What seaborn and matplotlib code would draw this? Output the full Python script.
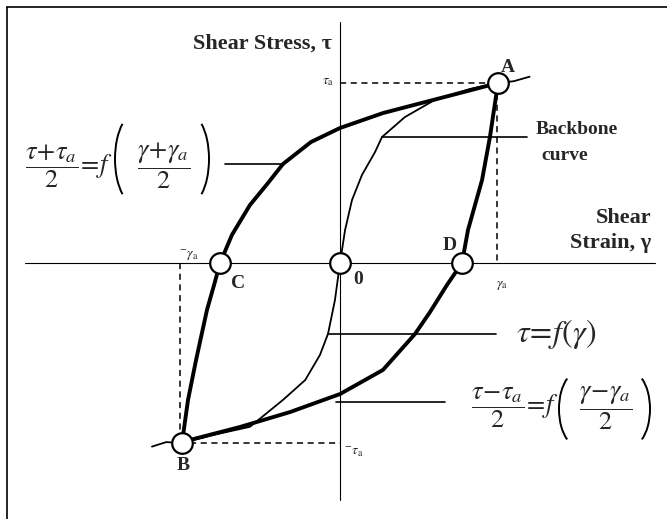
import numpy as np
import pandas as pd
import matplotlib
matplotlib.use("Agg")
import matplotlib.pyplot as plt
from matplotlib.lines import Line2D
from matplotlib.patches import Arc
import seaborn as sns

# normalised strain / stress (gamma_a = 1, tau_a = 1)
loop_up_gamma = [-1.0, -0.962, -0.911, -0.842, -0.797, -0.759, -0.684, -0.570, -0.456, -0.361,
                 -0.184, 0.0, 0.272, 0.538, 0.810, 1.0]
loop_up_tau = [-1.0, -0.761, -0.539, -0.261, -0.122, 0.0, 0.156, 0.322, 0.444, 0.55,
               0.672, 0.75, 0.833, 0.894, 0.956, 1.0]
loop_down_gamma = [1.0, 0.949, 0.899, 0.810, 0.772, 0.677, 0.570, 0.475, 0.272, 0.0,
                   -0.316, -0.633, -0.949, -1.0]
loop_down_tau = [1.0, 0.70, 0.461, 0.183, 0.0, -0.122, -0.272, -0.394, -0.594, -0.728,
                 -0.828, -0.911, -0.983, -1.0]
backbone_gamma = [-1.19, -1.10, -1.0, -0.80, -0.57, -0.36, -0.22, -0.127, -0.076, -0.032, 0.0,
                  0.032, 0.076, 0.139, 0.222, 0.266, 0.411, 0.60, 0.823, 1.0, 1.10, 1.20]
backbone_tau = [-1.02, -0.995, -1.0, -0.955, -0.91, -0.76, -0.65, -0.511, -0.394, -0.206, 0.0,
                0.183, 0.35, 0.489, 0.617, 0.70, 0.811, 0.906, 0.967, 1.0, 1.01, 1.035]

point_names = ["A", "B", "C", "0", "D"]
point_gamma = [1.0, -1.0, -0.759, 0.0, 0.772]
point_tau = [1.0, -1.0, 0.0, 0.0, 0.0]

# image pixel -> data units (origin at 340,263 ; gamma_a = 158 px, tau_a = 180 px)
def px(x, y):
    return (x - 340) / 158.0, (263 - y) / 180.0

sns.set_style("white")
plt.rcParams["font.family"] = ["Liberation Serif", "DejaVu Serif"]
plt.rcParams["mathtext.fontset"] = "stix"

fig = plt.figure(figsize=(6.67, 5.19), dpi=100)
ax = fig.add_axes([0, 0, 1, 1])
x0, y1 = px(0, 0)
x1, y0 = px(667, 519)
ax.set_xlim(x0, x1)
ax.set_ylim(y0, y1)
ax.axis("off")

# frame of the sketch (top and left only)
fig.add_artist(Line2D([7 / 667, 1], [1 - 7 / 519] * 2, color="black", lw=1.2))
fig.add_artist(Line2D([7 / 667] * 2, [0, 1 - 7 / 519], color="black", lw=1.2))

# coordinate axes
ax.plot([px(25, 0)[0], px(655, 0)[0]], [0, 0], color="black", lw=0.8)
ax.plot([0, 0], [px(0, 500)[1], px(0, 22)[1]], color="black", lw=0.8)

# dashed amplitude guides
dash = dict(color="black", lw=1.1, ls=(0, (4, 3)))
ax.plot([0, 0.95], [1.0, 1.0], **dash)
ax.plot([0.994, 0.994], [0.94, 0], **dash)
ax.plot([-1.01, -1.01], [0, -0.95], **dash)
ax.plot([-0.95, 0], [-1.0, -1.0], **dash)

up = pd.DataFrame({"gamma": loop_up_gamma, "tau": loop_up_tau})
down = pd.DataFrame({"gamma": loop_down_gamma, "tau": loop_down_tau})
bb = pd.DataFrame({"gamma": backbone_gamma, "tau": backbone_tau})
sns.lineplot(data=bb, x="gamma", y="tau", sort=False, estimator=None, color="black", lw=1.3, ax=ax)
sns.lineplot(data=up, x="gamma", y="tau", sort=False, estimator=None, color="black", lw=2.8, ax=ax)
sns.lineplot(data=down, x="gamma", y="tau", sort=False, estimator=None, color="black", lw=2.8, ax=ax)

# leader lines
lead = dict(color="black", lw=1.2)
ax.plot([px(382, 0)[0], px(527, 0)[0]], [0.70, 0.70], **lead)
ax.plot([px(225, 0)[0], px(284, 0)[0]], [0.55, 0.55], **lead)
ax.plot([px(328, 0)[0], px(496, 0)[0]], [-0.394, -0.394], **lead)
ax.plot([px(336, 0)[0], px(445, 0)[0]], [-0.77, -0.77], **lead)

pts = pd.DataFrame({"gamma": point_gamma, "tau": point_tau, "name": point_names})
sns.scatterplot(data=pts, x="gamma", y="tau", s=220, color="white", edgecolor="black",
                linewidth=1.6, zorder=5, ax=ax, legend=False)

lab = dict(fontsize=14, fontweight="bold", ha="center", va="center")
offsets = {"A": (508, 67), "B": (183, 465), "C": (238, 283), "0": (358, 279), "D": (450, 246)}
for name in point_names:
    ax.text(*px(*offsets[name]), name, **lab)

bold = dict(fontweight="bold", fontsize=16)
ax.text(*px(332, 44), "Shear Stress, \u03c4", ha="right", va="center", **bold)
ax.text(*px(651, 218), "Shear", ha="right", va="center", **bold)
ax.text(*px(651, 243), "Strain, \u03b3", ha="right", va="center", **bold)
ax.text(*px(536, 130), "Backbone", ha="left", va="center", fontweight="bold", fontsize=14)
ax.text(*px(541, 156), "curve", ha="left", va="center", fontweight="bold", fontsize=14)

small = dict(fontsize=10, va="center")
ax.text(*px(334, 82), r"$\tau_{\rm a}$", ha="right", **small)
ax.text(*px(496, 285), r"$\gamma_{\rm a}$", ha="left", **small)
ax.text(*px(198, 256), r"$^{-}\gamma_{\rm a}$", ha="right", **small)
ax.text(*px(344, 452), r"$^{-}\tau_{\rm a}$", ha="left", **small)


def bracket(cx, cy, w, h, left=True):
    # tall thin parenthesis drawn as an elliptic arc (sizes in pixels)
    c = px(cx, cy)
    t1, t2 = (112, 248) if left else (-68, 68)
    ax.add_patch(Arc(c, w / 158.0, h / 180.0, theta1=t1, theta2=t2, color="black", lw=1.4))


# formulas built from pieces so that the brackets can be tall
fs = 19
ax.text(*px(25, 166), r"$\dfrac{\tau\!+\!\tau_a}{2}\!=\!f$", ha="left", va="center", fontsize=fs)
bracket(135, 159, 40, 90, left=True)
ax.text(*px(164, 166), r"$\dfrac{\gamma\!+\!\gamma_a}{2}$", ha="center", va="center", fontsize=fs)
bracket(189, 159, 40, 90, left=False)

ax.text(*px(556, 334), r"$\tau\!=\!f\left(\gamma\right)$", ha="center", va="center", fontsize=23)

ax.text(*px(471, 408), r"$\dfrac{\tau\!-\!\tau_a}{2}\!=\!f$", ha="left", va="center", fontsize=fs)
bracket(578, 409, 38, 74, left=True)
ax.text(*px(606, 408), r"$\dfrac{\gamma\!-\!\gamma_a}{2}$", ha="center", va="center", fontsize=fs)
bracket(631, 409, 38, 74, left=False)

fig.savefig("out.png", dpi=100)
